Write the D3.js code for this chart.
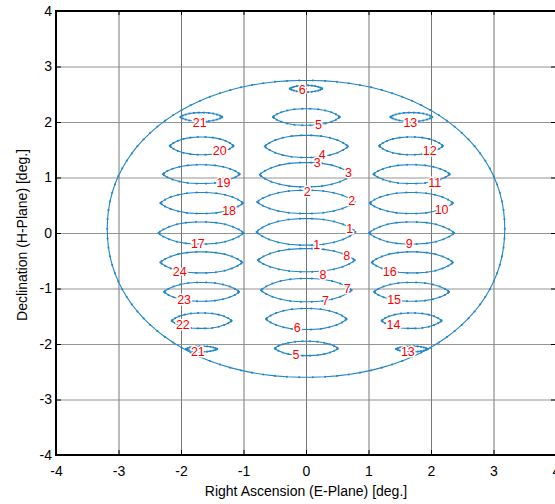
<!DOCTYPE html>
<html>
<head>
<meta charset="utf-8">
<script src="https://cdn.jsdelivr.net/npm/d3@7/dist/d3.min.js"></script>
<style>
  html, body { margin: 0; padding: 0; background: #fff; }
  svg { display: block; font-family: "Liberation Sans", Arial, Helvetica, sans-serif; }
</style>
</head>
<body>
<svg id="chart" width="555" height="504"></svg>
<script>
// ---- data ----
const xTicks = [-4, -3, -2, -1, 0, 1, 2, 3, 4];
const yTicks = [-4, -3, -2, -1, 0, 1, 2, 3, 4];
const xLabel = "Right Ascension (E-Plane) [deg.]";
const yLabel = "Declination (H-Plane) [deg.]";

// outer contour: centre, half-widths, superellipse exponent
const outerContour = { cx: 0, cy: 0.075, rx: 3.18, ry: 2.675, n: 2.1 };

// beam contours: [id, xLeft, xRight, yCentre, halfHeight]
const centerColumn = [
  ["6", -0.26, 0.26, 2.60, 0.06],
  ["5", -0.53, 0.54, 2.09, 0.15],
  ["4", -0.66, 0.67, 1.56, 0.20],
  ["3", -0.74, 0.73, 1.05, 0.22],
  ["2", -0.78, 0.78, 0.56, 0.21],
  ["1", -0.79, 0.79, 0.02, 0.24],
  ["8", -0.77, 0.78, -0.49, 0.21],
  ["7", -0.72, 0.73, -1.03, 0.21],
  ["6", -0.64, 0.65, -1.55, 0.19],
  ["5", -0.50, 0.51, -2.08, 0.13]
];
const leftColumn = [
  ["21", -2.01, -1.34, 2.09, 0.08],
  ["20", -2.18, -1.16, 1.57, 0.16],
  ["19", -2.29, -1.06, 1.06, 0.17],
  ["18", -2.33, -1.01, 0.54, 0.19],
  ["17", -2.36, -1.00, 0.00, 0.20],
  ["24", -2.33, -1.02, -0.53, 0.19],
  ["23", -2.27, -1.07, -1.06, 0.17],
  ["22", -2.15, -1.19, -1.58, 0.14],
  ["21", -1.92, -1.42, -2.09, 0.05]
];
const rightColumn = [
  ["13", 1.35, 2.02, 2.09, 0.08],
  ["12", 1.17, 2.19, 1.57, 0.16],
  ["11", 1.08, 2.30, 1.06, 0.17],
  ["10", 1.02, 2.35, 0.54, 0.19],
  ["9", 1.01, 2.37, 0.00, 0.20],
  ["16", 1.05, 2.35, -0.53, 0.19],
  ["15", 1.09, 2.29, -1.06, 0.17],
  ["14", 1.21, 2.17, -1.58, 0.14],
  ["13", 1.44, 1.95, -2.09, 0.05]
];

// contour labels: [text, x, y]
const contourLabels = [
  ["6", -0.06, 2.57], ["5", 0.20, 1.95], ["4", 0.26, 1.40], ["3", 0.18, 1.26],
  ["3", 0.68, 1.09], ["2", 0.02, 0.73], ["2", 0.73, 0.57], ["1", 0.70, 0.08],
  ["1", 0.17, -0.21], ["8", 0.65, -0.41], ["8", 0.27, -0.75], ["7", 0.66, -1.00],
  ["7", 0.31, -1.22], ["6", -0.14, -1.72], ["5", -0.16, -2.20],
  ["21", -1.70, 1.98], ["20", -1.38, 1.47], ["19", -1.32, 0.90], ["18", -1.23, 0.39],
  ["17", -1.73, -0.20], ["24", -2.02, -0.71], ["23", -1.95, -1.20], ["22", -1.97, -1.66],
  ["21", -1.73, -2.14],
  ["13", 1.67, 1.98], ["12", 1.98, 1.47], ["11", 2.06, 0.90], ["10", 2.17, 0.41],
  ["9", 1.65, -0.20], ["16", 1.34, -0.70], ["15", 1.41, -1.20], ["14", 1.40, -1.66],
  ["13", 1.63, -2.14]
];

// ---- layout ----
const svg = d3.select("#chart");
const m = { left: 56, top: 11, right: 556, bottom: 455 };
const x = d3.scaleLinear().domain([-4, 4]).range([m.left, m.right]);
const y = d3.scaleLinear().domain([-4, 4]).range([m.bottom, m.top]);
const W = m.right - m.left, H = m.bottom - m.top;
const lineColor = "#2286c6";
const fmt = d => String(d);

// grid
const grid = svg.append("g");
grid.append("g").attr("transform", `translate(0,${m.bottom})`)
  .call(d3.axisBottom(x).tickValues(xTicks).tickSize(-H).tickFormat(""))
  .call(g => g.select(".domain").remove())
  .call(g => g.selectAll("line").attr("stroke", "#666").attr("stroke-width", 0.9));
grid.append("g").attr("transform", `translate(${m.left},0)`)
  .call(d3.axisLeft(y).tickValues(yTicks).tickSize(-W).tickFormat(""))
  .call(g => g.select(".domain").remove())
  .call(g => g.selectAll("line").attr("stroke", "#888").attr("stroke-width", 0.9));

// contour shapes
const plot = svg.append("g");
const line = d3.line().x(d => x(d[0])).y(d => y(d[1])).curve(d3.curveLinearClosed);

function beamShape(c) {
  const [, xl, xr, cy, ry] = c;
  const cx = (xl + xr) / 2, rx = (xr - xl) / 2;
  const a = 2.4, b = 0.82, N = 26;
  return d3.range(N).map(i => {
    const t = (i / N) * 2 * Math.PI;
    const u = Math.cos(t);
    const s = Math.sin(t) >= 0 ? 1 : -1;
    const v = s * Math.pow(Math.max(0, 1 - Math.pow(Math.abs(u), a)), b);
    return [cx + rx * u, cy + ry * v];
  });
}
function outerShape(o) {
  const N = 110;
  return d3.range(N).map(i => {
    const t = (i / N) * 2 * Math.PI;
    const c = Math.cos(t), s = Math.sin(t);
    const p = 2 / o.n;
    return [o.cx + o.rx * Math.sign(c) * Math.pow(Math.abs(c), p),
            o.cy + o.ry * Math.sign(s) * Math.pow(Math.abs(s), p)];
  });
}

const allBeams = [...centerColumn, ...leftColumn, ...rightColumn];
const shapes = [outerShape(outerContour), ...allBeams.map(beamShape)];

plot.selectAll("path.contour").data(shapes).join("path")
  .attr("class", "contour")
  .attr("d", line)
  .attr("fill", "none")
  .attr("stroke", lineColor)
  .attr("stroke-width", 1.1);

// vertex dots
plot.selectAll("g.dots").data(shapes).join("g").attr("class", "dots")
  .selectAll("rect").data(d => d).join("rect")
  .attr("x", d => x(d[0]) - 0.9).attr("y", d => y(d[1]) - 0.9)
  .attr("width", 1.8).attr("height", 1.8)
  .attr("fill", lineColor);

// labels
plot.selectAll("text.clabel").data(contourLabels).join("text")
  .attr("class", "clabel")
  .attr("x", d => x(d[1])).attr("y", d => y(d[2]))
  .attr("text-anchor", "middle").attr("dominant-baseline", "central")
  .attr("font-size", 12.5)
  .attr("fill", "#ff0000")
  .attr("stroke", "#fff").attr("stroke-width", 3).attr("paint-order", "stroke")
  .text(d => d[0]);

// frame
svg.append("rect")
  .attr("x", m.left).attr("y", m.top).attr("width", W).attr("height", H)
  .attr("fill", "none").attr("stroke", "#000").attr("stroke-width", 2);

// ticks + labels
const tickStyle = g => {
  g.select(".domain").remove();
  g.selectAll("line").attr("stroke", "#000");
  g.selectAll("text").attr("fill", "#000").attr("font-size", 14)
    .attr("font-family", "'Liberation Sans', Arial, sans-serif");
};
svg.append("g").attr("transform", `translate(0,${m.bottom})`)
  .call(d3.axisBottom(x).tickValues(xTicks).tickFormat(fmt).tickSizeInner(-5).tickSizeOuter(0).tickPadding(11))
  .call(tickStyle);
svg.append("g").attr("transform", `translate(0,${m.top})`)
  .call(d3.axisTop(x).tickValues(xTicks).tickSizeInner(-4).tickSizeOuter(0).tickFormat(""))
  .call(tickStyle);
svg.append("g").attr("transform", `translate(${m.left},0)`)
  .call(d3.axisLeft(y).tickValues(yTicks).tickFormat(fmt).tickSizeInner(-5).tickSizeOuter(0).tickPadding(4))
  .call(tickStyle);
svg.append("g").attr("transform", `translate(${m.right},0)`)
  .call(d3.axisRight(y).tickValues(yTicks).tickSizeInner(-5).tickSizeOuter(0).tickFormat(""))
  .call(tickStyle);

// axis titles
svg.append("text")
  .attr("x", x(0)).attr("y", 496)
  .attr("text-anchor", "middle").attr("font-size", 14).attr("fill", "#000")
  .text(xLabel);
svg.append("text")
  .attr("transform", `translate(27,${y(0) + 2}) rotate(-90)`)
  .attr("text-anchor", "middle").attr("font-size", 14).attr("fill", "#000")
  .text(yLabel);
</script>
</body>
</html>
